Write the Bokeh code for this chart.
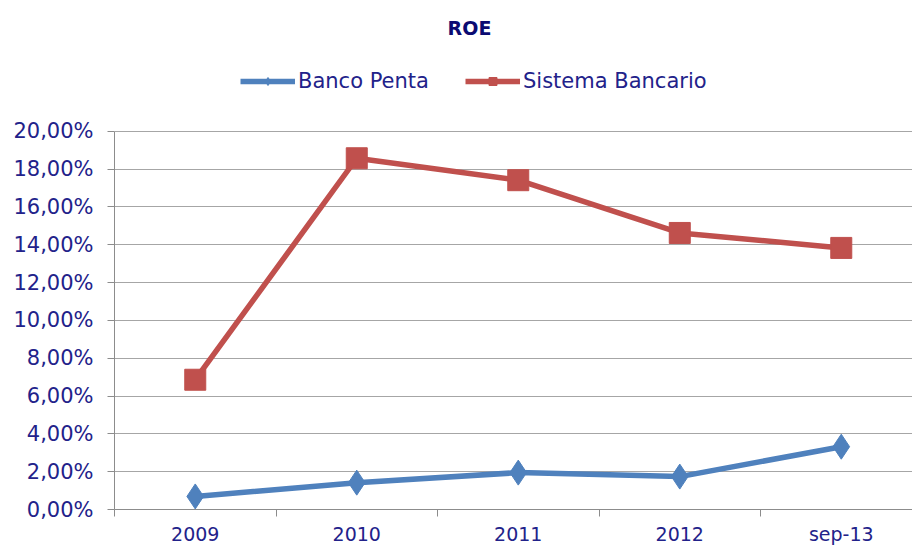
from bokeh.plotting import figure
from bokeh.models import (FixedTicker, CustomJSTickFormatter, Legend, LegendItem,
                          Label, Range1d)
from bokeh.embed import file_html
from bokeh.resources import INLINE

# ---- data ----
categories = ["2009", "2010", "2011", "2012", "sep-13"]
banco_penta = [0.69, 1.42, 1.95, 1.74, 3.32]          # ROE, %
sistema_bancario = [6.86, 18.57, 17.41, 14.62, 13.83]  # ROE, %
y_ticks = [0, 2, 4, 6, 8, 10, 12, 14, 16, 18, 20]
title_text = "ROE"
series_names = ["Banco Penta", "Sistema Bancario"]

BLUE = "#4F81BD"
RED = "#C0504D"
NAVY = "#22228A"
GRAY = "#8C8C8C"
FONT = "DejaVu Sans"

xs = list(range(len(categories)))

# frame covers the header area too (y above 20% is empty space for title/legend)
p = figure(width=912, height=547, output_backend="svg", toolbar_location=None,
           x_range=Range1d(-0.5, 4.441), y_range=Range1d(0, 26.91),
           min_border_left=114, min_border_right=0, min_border_top=0,
           min_border_bottom=37)
p.outline_line_color = None
p.background_fill_color = "white"
p.border_fill_color = "white"

# x axis: labels at category centres, tick marks at category boundaries
xa = p.xaxis[0]
xa.ticker = FixedTicker(ticks=xs, minor_ticks=[i - 0.5 for i in xs])
xa.major_label_overrides = {i: c for i, c in enumerate(categories)}
xa.major_tick_out = 0
xa.major_tick_in = 0
xa.minor_tick_out = 7
xa.minor_tick_in = 0
xa.minor_tick_line_color = GRAY
xa.axis_line_color = GRAY
xa.major_label_standoff = 6
xa.major_label_text_font = FONT
xa.major_label_text_font_size = "19px"
xa.major_label_text_color = NAVY

ya = p.yaxis[0]
ya.ticker = FixedTicker(ticks=y_ticks)
ya.bounds = (0, 20)
ya.formatter = CustomJSTickFormatter(code="return tick.toFixed(2).replace('.', ',') + '%';")
ya.major_tick_out = 7
ya.major_tick_in = 0
ya.minor_tick_line_color = None
ya.major_tick_line_color = GRAY
ya.axis_line_color = GRAY
ya.major_label_standoff = 14
ya.major_label_text_font = FONT
ya.major_label_text_font_size = "21px"
ya.major_label_text_color = NAVY

p.xgrid.visible = False
p.ygrid.ticker = FixedTicker(ticks=y_ticks)
p.ygrid.grid_line_color = "#A6A6A6"
p.ygrid.grid_line_width = 1

l1 = p.line(xs, banco_penta, line_width=5.5, color=BLUE)
s1 = p.scatter(xs, banco_penta, marker="diamond", size=25, color=BLUE)
l2 = p.line(xs, sistema_bancario, line_width=5.5, color=RED)
s2 = p.scatter(xs, sistema_bancario, marker="square", size=21, color=RED)

common = dict(orientation="horizontal", glyph_width=55, glyph_height=20,
              label_height=20, label_standoff=3, padding=0, margin=0,
              border_line_color=None, background_fill_alpha=0,
              label_text_font=FONT, label_text_font_size="21px",
              label_text_color=NAVY, label_text_baseline="middle")
leg1 = Legend(items=[LegendItem(label=series_names[0], renderers=[l1, s1])],
              location=(126, 416), **common)
leg2 = Legend(items=[LegendItem(label=series_names[1], renderers=[l2, s2])],
              location=(351, 416), **common)
p.add_layout(leg1)
p.add_layout(leg2)

title = Label(x=355, y=482, x_units="screen", y_units="screen", text=title_text,
              text_align="center", text_baseline="middle",
              text_font=FONT, text_font_size="19px", text_font_style="bold",
              text_color="#0B0B72")
p.add_layout(title)

open("out.html", "w").write(file_html(p, INLINE))
